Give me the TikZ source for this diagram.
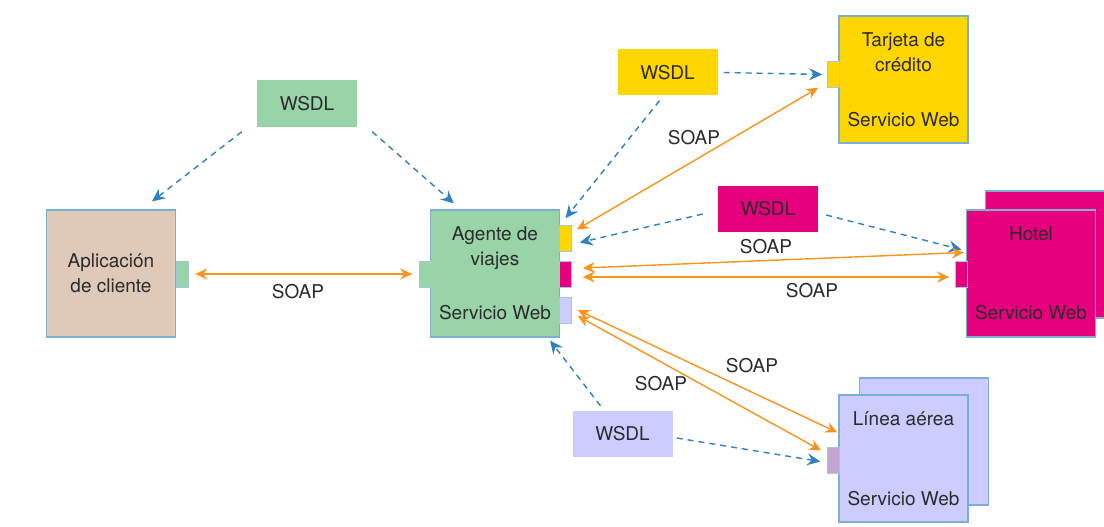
\documentclass[tikz,border=0pt]{standalone}
\usepackage{fontspec}
\setmainfont{TeX Gyre Heros}
\usetikzlibrary{arrows.meta}
\definecolor{verde}{HTML}{99D3A8}
\definecolor{crema}{HTML}{DFC9B8}
\definecolor{amarillo}{HTML}{FFD600}
\definecolor{magenta}{HTML}{E6007E}
\definecolor{lila}{HTML}{CCCCFF}
\definecolor{malva}{HTML}{C3A5CF}
\definecolor{naranja}{HTML}{F7941D}
\definecolor{azul}{HTML}{2F80C4}
\definecolor{borde}{HTML}{7BAFD4}
\definecolor{texto}{HTML}{2B2B2B}
\begin{document}
\begin{tikzpicture}[x=1pt, y=-1pt, font=\fontsize{19}{25}\selectfont, text=texto,
  caja/.style = {draw=borde, line width=1.2pt, minimum width=129pt, minimum height=127pt, inner sep=0pt, align=center},
  puerto/.style = {draw=borde!70, line width=0.6pt, minimum width=12pt, minimum height=26pt, inner sep=0pt},
  wsdl/.style = {minimum width=100pt, minimum height=46pt, inner sep=0pt},
  soap/.style = {draw=naranja, line width=1.4pt, >={Stealth[length=12pt,width=11pt,inset=4pt]}, <->},
  dep/.style = {draw=azul, line width=1.4pt, dash pattern=on 6pt off 5pt, >={Stealth[length=13pt,width=12pt,inset=4.5pt]}, ->}]
\path[use as bounding box] (0,0) rectangle (1104,527);
\clip (0,0) rectangle (1104,527);
\fill[white] (0,0) rectangle (1104,527);

\node[caja, fill=crema] (cliente) at (111,273.5) {Aplicación\\de cliente};
\node[puerto, fill=verde] (cport) at (182,274) {};
\node[caja, fill=verde] (agente) at (495,273.5) {Agente de\\viajes\\[29pt]Servicio Web};
\node[puerto, fill=verde] (aport) at (425.5,274) {};
\node[puerto, fill=amarillo] (yport) at (565.5,238.5) {};
\node[puerto, fill=magenta] (mport) at (565.5,274) {};
\node[puerto, fill=lila] (vport) at (565.5,310) {};

\node[caja, fill=amarillo] (tarjeta) at (903.5,79.5) {Tarjeta de\\crédito\\[30pt]Servicio Web};
\node[puerto, fill=amarillo] (tport) at (833.5,74.5) {};
\node[caja, fill=magenta] (hotelb) at (1050,254.5) {};
\node[caja, fill=magenta] (hotel) at (1031,273.5) {Hotel\\[54pt]Servicio Web};
\node[puerto, fill=magenta] (hport) at (961.5,274) {};
\node[caja, fill=lila] (lineab) at (924,441.5) {};
\node[caja, fill=lila] (linea) at (903.5,458.5) {Línea aérea\\[55pt]Servicio Web};
\node[puerto, fill=malva] (lport) at (833.5,460.5) {};

\node[wsdl, fill=verde] (wsdlA) at (307,103.5) {WSDL};
\node[wsdl, fill=amarillo] (wsdlT) at (667.5,72.5) {WSDL};
\node[wsdl, fill=magenta] (wsdlH) at (768,209) {WSDL};
\node[wsdl, fill=lila] (wsdlL) at (622.5,434) {WSDL};

\draw[soap] ([xshift=7pt]cport.east) -- ([xshift=-7pt]aport.west);
\draw[dep] ([xshift=-15pt,yshift=-5pt]wsdlA.south west) -- ([xshift=-24pt,yshift=8pt]cliente.north east);
\draw[dep] ([xshift=15pt,yshift=-5pt]wsdlA.south east) -- ([xshift=24pt,yshift=6pt]agente.north west);

\draw[dep] ([xshift=6pt]wsdlT.east) -- ([xshift=-5pt]tport.west);
\draw[dep] ([xshift=-8pt,yshift=-5pt]wsdlT.south) -- ([yshift=7pt]yport.north);
\draw[soap] ([xshift=5pt,yshift=9pt]yport.east) -- ([xshift=-9pt]tport.south west);

\draw[dep] ([xshift=-15pt,yshift=-5pt]wsdlH.west) -- ([xshift=8pt,yshift=-4pt]yport.east);
\draw[dep] ([xshift=8pt,yshift=-6pt]wsdlH.east) -- ([yshift=11pt]hport.north);
\draw[soap] ([xshift=11pt,yshift=6pt]mport.east) -- ([xshift=-2pt,yshift=21pt]hotel.west);
\draw[soap] ([xshift=11pt,yshift=-3pt]mport.east) -- ([xshift=-6pt,yshift=-3pt]hport.west);

\draw[dep] ([xshift=-22pt,yshift=5pt]wsdlL.north) -- ([xshift=-10pt,yshift=-3pt]agente.south east);
\draw[dep] ([xshift=4pt,yshift=-4pt]wsdlL.east) -- ([xshift=-7pt,yshift=-1pt]lport.west);
\draw[soap] ([xshift=6pt]vport.east) -- ([xshift=-1pt,yshift=26pt]linea.west);
\draw[soap] ([xshift=6pt,yshift=-6pt]vport.east) -- ([xshift=-6pt,yshift=10pt]lport.west);

\node (s1) at (298,292) {SOAP};
\node (s2) at (694,138) {SOAP};
\node (s3) at (766,247) {SOAP};
\node (s4) at (812,291) {SOAP};
\node (s5) at (752,366) {SOAP};
\node (s6) at (661,384) {SOAP};
\end{tikzpicture}
\end{document}
